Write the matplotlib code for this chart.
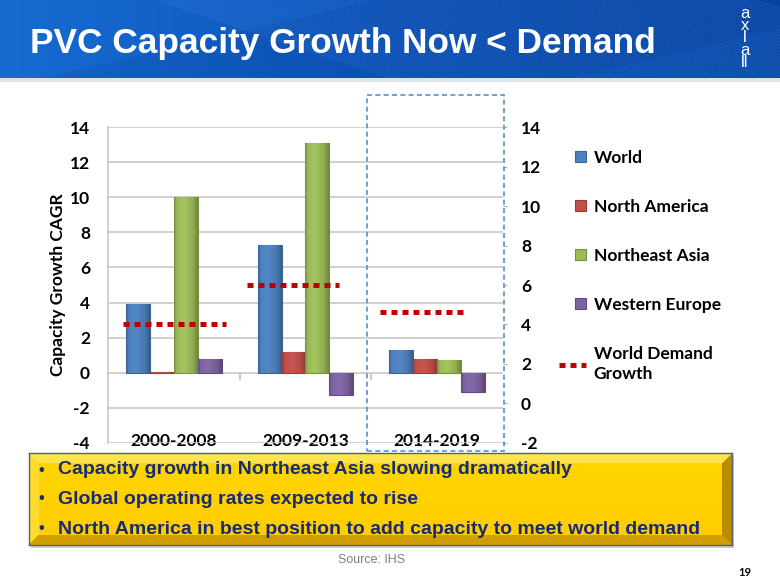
import numpy as np
import matplotlib
matplotlib.use('Agg')
import matplotlib.pyplot as plt
from matplotlib.patches import Rectangle
from matplotlib.lines import Line2D
from matplotlib.legend_handler import HandlerPatch
from matplotlib.colors import to_rgb

# ---------------- data ----------------
periods = ['2000-2008', '2009-2013', '2014-2019']
series_names = ['World', 'North America', 'Northeast Asia', 'Western Europe']
world = [3.9, 7.3, 1.3]
north_america = [0.05, 1.2, 0.8]
northeast_asia = [10.0, 13.1, 0.7]
western_europe = [0.8, -1.3, -1.1]
world_demand = [4.0, 6.0, 4.65]
demand_label = 'World Demand\nGrowth'
left_ticks = list(range(-4, 15, 2))
right_ticks = list(range(-2, 15, 2))
y_label = 'Capacity Growth CAGR'
title = 'PVC Capacity Growth Now < Demand'
bullets = ['Capacity growth in Northeast Asia slowing dramatically',
           'Global operating rates expected to rise',
           'North America in best position to add capacity to meet world demand']
source = 'Source: IHS'
page = '19'
logo_text = 'a\nx\nl\na\nll'

# ---------------- styles ----------------
W, H = 780, 585
bar_colors = ['#4F81BD', '#C0504D', '#9BBB59', '#8064A2']
bar_edges = ['#3A6396', '#9A3B38', '#76923F', '#5F4A7D']
demand_color = '#C00000'
bar_w = 0.182
demand_start = [-0.386, -0.447, -0.435]
demand_end = [0.396, 0.254, 0.233]
CAL = 'Lato'
ARIAL = 'Liberation Sans'


def fx(px):
    return px / W


def fy(py):
    return 1 - py / H


fig = plt.figure(figsize=(7.8, 5.85), dpi=100)
fig.patch.set_facecolor('white')

# ---------------- banner ----------------
bax = fig.add_axes([0, fy(78), 1, 78 / H])
xs = np.linspace(0, 1, 780)
left_c = np.array([0.09, 0.42, 0.82])
mid_c = np.array([0.05, 0.33, 0.74])
right_c = np.array([0.03, 0.28, 0.66])
grad = np.where(xs[:, None] < 0.5,
                left_c + (mid_c - left_c) * (xs[:, None] / 0.5),
                mid_c + (right_c - mid_c) * ((xs[:, None] - 0.5) / 0.5))
img = np.tile(grad[None, :, :], (78, 1, 1))
bax.imshow(img, extent=[0, 780, 78, 0], aspect='auto')
for x0 in range(160, 760, 9):
    bax.plot([x0, x0 + 230], [0, 78], color='#6FA8F0', alpha=0.13, lw=1.5)
for x0 in range(380, 900, 11):
    bax.plot([x0, x0 - 330], [0, 78], color='#04266E', alpha=0.12, lw=1.5)
bax.set_xlim(0, 780)
bax.set_ylim(78, 0)
bax.axis('off')
fig.add_artist(Rectangle((0, fy(82)), 1, 4 / H, transform=fig.transFigure,
                         facecolor='#DCE3EA', edgecolor='none', zorder=-1))

fig.text(fx(30), fy(43), title, color='white', fontsize=25.4, fontweight='bold',
         family=ARIAL, ha='left', va='center')
fig.text(fx(745), fy(38), logo_text, color='white', fontsize=12, family=ARIAL,
         ha='center', va='center', linespacing=0.76)

# ---------------- chart ----------------
ax = fig.add_axes([fx(108), fy(442.7), fx(503) - fx(108), (442.7 - 127.3) / H])
x = np.arange(len(periods))
all_series = [world, north_america, northeast_asia, western_europe]
bar_handles = []
profile_x = np.linspace(0, 1, 40)
profile = np.interp(profile_x, [0, 0.12, 0.45, 0.8, 1.0], [0.78, 1.0, 1.05, 0.92, 0.72])
for j, (vals, name) in enumerate(zip(all_series, series_names)):
    bars = ax.bar(x + (j - 1.5) * bar_w, vals, width=bar_w, color=bar_colors[j],
                  edgecolor=bar_edges[j], linewidth=0.8, label=name, zorder=3)
    base_rgb = np.array(to_rgb(bar_colors[j]))
    gimg = np.clip(profile[None, :, None] * base_rgb[None, None, :], 0, 1)
    for b in bars:
        bx, by = b.get_xy()
        im = ax.imshow(gimg, extent=[bx, bx + b.get_width(), by, by + b.get_height()],
                       aspect='auto', origin='lower', zorder=3.2,
                       interpolation='bilinear')
        im.set_clip_path(b)
    bar_handles.append(Rectangle((0, 0), 1, 1, facecolor=bar_colors[j],
                                 edgecolor=bar_edges[j], linewidth=0.8))
ax.set_xlim(-0.5, 2.5)
ax.set_ylim(-4, 14)

ax.set_yticks(left_ticks)
ax.set_yticklabels([str(t) for t in left_ticks])
ax.tick_params(axis='y', length=0, pad=13, labelsize=12.5)
for lab in ax.get_yticklabels():
    lab.set_fontweight('bold')
    lab.set_family(CAL)
ax.yaxis.grid(True, color='#C8C8C8', lw=1.2, zorder=0)
ax.set_axisbelow(True)
ax.set_xticks(x)
ax.set_xticklabels(periods, fontsize=12.5, fontweight='bold', family=CAL)
ax.tick_params(axis='x', length=0, pad=-7)
for s in ['top', 'right', 'bottom']:
    ax.spines[s].set_visible(False)
ax.spines['left'].set_color('#C8C8C8')
ax.spines['left'].set_linewidth(1.2)
ax.set_ylabel(y_label, fontsize=12.5, fontweight='bold', family=CAL)
ax.yaxis.set_label_coords(-0.107, 0.5)

sec = ax.secondary_xaxis(4 / 18)
sec.set_xticks([0.5, 1.5])
sec.tick_params(length=5, color='#C0C0C0', width=1.2, labelbottom=False)
sec.spines['bottom'].set_visible(False)

ax2 = ax.twinx()
ax2.set_ylim(-2, 14)
ax2.set_yticks(right_ticks)
ax2.set_yticklabels([str(t) for t in right_ticks])
ax2.tick_params(axis='y', length=3, color='#B0B0B0', pad=10, labelsize=12.5)
for lab in ax2.get_yticklabels():
    lab.set_fontweight('bold')
    lab.set_family(CAL)
for s in ax2.spines.values():
    s.set_visible(False)
for i, v in enumerate(world_demand):
    ax2.plot([i + demand_start[i], i + demand_end[i]], [v, v], color=demand_color,
             lw=3.6, linestyle=(0, (1.2, 1.0)), solid_capstyle='butt',
             dash_capstyle='butt', zorder=5)
demand_handle = Line2D([0], [0], color=demand_color, lw=3.6,
                       linestyle=(0, (1.2, 1.0)), dash_capstyle='butt')


def square_patch(legend, orig_handle, xdescent, ydescent, width, height, fontsize):
    s = 8.0
    return Rectangle((-xdescent + width - s, -ydescent + (height - s) / 2), s, s)


handler = HandlerPatch(patch_func=square_patch)
leg = fig.legend(bar_handles + [demand_handle], series_names + [demand_label],
                 loc='upper left', bbox_to_anchor=(fx(559), fy(150)),
                 frameon=False, handlelength=1.55, handletextpad=0.45,
                 borderpad=0, borderaxespad=0, labelspacing=1.9,
                 prop={'family': CAL, 'weight': 'bold', 'size': 12.5},
                 handler_map={Rectangle: handler})
leg.get_texts()[-1].set_linespacing(1.35)

# dashed highlight box
fig.add_artist(Rectangle((fx(367), fy(451)), (504 - 367) / W, (451 - 95) / H,
                         transform=fig.transFigure, fill=False,
                         edgecolor='#5B8FD0', lw=1.2, linestyle=(0, (3, 2))))

# ---------------- yellow box ----------------
bx0, bx1, by0, by1 = 29, 732, 453, 545
fig.add_artist(Rectangle((fx(bx0 + 2), fy(by1 + 3)), (bx1 - bx0) / W, (by1 - by0) / H,
                         transform=fig.transFigure, facecolor='#A0A0A0',
                         edgecolor='none', alpha=0.5, zorder=-1))
yax = fig.add_axes([fx(bx0), fy(by1), (bx1 - bx0) / W, (by1 - by0) / H])
hh, ww, bev = by1 - by0, bx1 - bx0, 10
rr, cc = np.mgrid[0:hh, 0:ww]
dt, db, dl, dr = rr, hh - 1 - rr, cc, ww - 1 - cc
base = np.array([1.0, 0.80, 0.0])
top_c = np.array([1.0, 0.90, 0.30])
left_cc = np.array([1.0, 0.86, 0.18])
bot_c = np.array([0.82, 0.62, 0.0])
right_cc = np.array([0.74, 0.55, 0.0])
yimg = np.empty((hh, ww, 3))
shade = 1.0 + 0.05 * (1 - rr / hh)
yimg[:] = np.clip(base[None, None, :] * shade[..., None], 0, 1)
mins = np.stack([dt, db, dl, dr], axis=-1)
which = np.argmin(mins, axis=-1)
inside = mins.min(axis=-1) < bev
for k, col in enumerate([top_c, bot_c, left_cc, right_cc]):
    yimg[inside & (which == k)] = col
yax.imshow(yimg, extent=[0, ww, hh, 0], aspect='auto')
yax.set_xticks([])
yax.set_yticks([])
for s in yax.spines.values():
    s.set_color('#55607A')
    s.set_linewidth(1.0)

navy = '#172B75'
for k, (t, yy) in enumerate(zip(bullets, [470, 499, 529])):
    fig.text(fx(41), fy(yy), '\u2022', color=navy, fontsize=12, family=ARIAL,
             ha='center', va='center')
    fig.text(fx(58), fy(yy), t, color=navy, fontsize=14, fontweight='bold',
             family=ARIAL, ha='left', va='center')

fig.text(fx(372), fy(560), source, color='#7F7F7F', fontsize=9, family=ARIAL,
         ha='center', va='center')
fig.text(fx(745), fy(572), page, color='black', fontsize=8, fontweight='bold',
         family=CAL, ha='center', va='center')

fig.savefig('out.png', dpi=100)
